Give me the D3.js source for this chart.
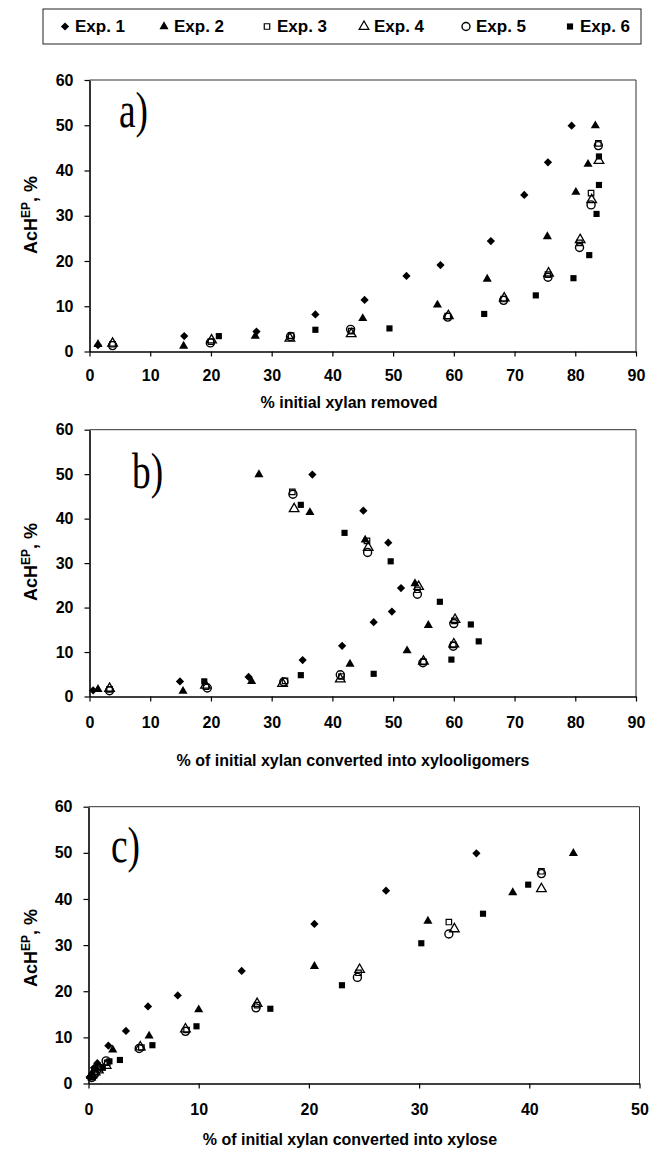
<!DOCTYPE html>
<html>
<head>
<meta charset="utf-8">
<script src="https://cdn.jsdelivr.net/npm/d3@7"></script>
<style>
  body { margin: 0; background: #fff; }
  svg { display: block; }
</style>
</head>
<body>
<script>
// AcH(EP) values, % (one array per experiment, same order in every panel)
const expNames = ["Exp. 1", "Exp. 2", "Exp. 3", "Exp. 4", "Exp. 5", "Exp. 6"];

const achEP = [
  [1.4, 3.4, 4.4, 8.2, 11.4, 16.7, 19.1, 24.4, 34.6, 41.8, 49.9],
  [1.6, 1.2, 3.4, 7.3, 10.3, 16.0, 25.4, 35.2, 41.4, 49.9],
  [1.6, 2.2, 3.5, 4.5, 7.8, 11.6, 17.0, 24.0, 35.0, 46.0],
  [1.8, 2.5, 2.9, 3.9, 7.9, 11.8, 17.3, 24.7, 33.5, 42.2],
  [1.3, 1.9, 3.3, 4.9, 7.6, 11.3, 16.4, 23.0, 32.4, 45.5],
  [3.4, 4.8, 5.1, 8.3, 12.4, 16.2, 21.3, 30.4, 36.8, 43.1]
];

// % initial xylan removed
const xylanRemoved = [
  [1.4, 15.6, 27.5, 37.2, 45.3, 52.2, 57.8, 66.1, 71.6, 75.5, 79.4],
  [1.4, 15.5, 27.3, 45.0, 57.3, 65.5, 75.4, 80.1, 82.1, 83.3],
  [3.8, 20.0, 33.2, 43.1, 59.0, 68.2, 75.5, 80.7, 82.6, 83.8],
  [3.8, 20.1, 33.0, 43.1, 59.1, 68.3, 75.6, 80.8, 82.7, 83.9],
  [3.8, 19.9, 33.1, 43.0, 59.0, 68.2, 75.5, 80.7, 82.6, 83.8],
  [21.3, 37.2, 49.4, 65.0, 73.5, 79.7, 82.3, 83.5, 83.9, 83.9]
];

// % of initial xylan converted into xylooligomers
const toOligomers = [
  [0.6, 14.9, 26.2, 35.1, 41.6, 46.8, 49.8, 51.3, 49.2, 45.1, 36.7],
  [1.4, 15.4, 26.7, 42.9, 52.3, 55.8, 53.6, 45.4, 36.3, 27.9],
  [3.3, 19.2, 32.2, 41.5, 55.0, 59.9, 60.1, 54.0, 45.7, 33.4],
  [3.3, 19.1, 31.8, 41.3, 55.0, 60.0, 60.2, 54.2, 45.9, 33.7],
  [3.3, 19.4, 32.0, 41.3, 54.9, 59.9, 60.0, 54.0, 45.8, 33.5],
  [18.9, 34.8, 46.8, 59.6, 64.1, 62.8, 57.7, 49.6, 42.0, 34.8]
];

// % of initial xylan converted into xylose
const toXylose = [
  [0.1, 0.5, 0.8, 1.8, 3.4, 5.4, 8.1, 13.9, 20.5, 27.0, 35.2],
  [0.2, 0.3, 0.7, 2.2, 5.5, 10.0, 20.5, 30.8, 38.5, 44.0],
  [0.3, 0.6, 1.0, 1.7, 4.8, 8.9, 15.3, 24.5, 32.7, 41.1],
  [0.3, 0.6, 0.9, 1.6, 4.7, 8.8, 15.3, 24.6, 33.2, 41.1],
  [0.3, 0.5, 0.9, 1.6, 4.6, 8.8, 15.2, 24.4, 32.7, 41.1],
  [1.3, 1.9, 2.85, 5.8, 9.8, 16.5, 23.0, 30.2, 35.8, 39.9]
];

const yTicks = [0, 10, 20, 30, 40, 50, 60];
const xTicksAB = [0, 10, 20, 30, 40, 50, 60, 70, 80, 90];
const xTicksC = [0, 10, 20, 30, 40, 50];

const W = 658, H = 1149;
const sans = "'Liberation Sans', Arial, sans-serif";
const serif = "'Liberation Serif', 'Times New Roman', serif";

const svg = d3.select("body").append("svg")
  .attr("width", W).attr("height", H);

// marker drawing
function marker(g, i) {
  const sym = d3.symbol();
  if (i === 0) {
    g.append("path").attr("d", sym.type(d3.symbolSquare).size(34)())
      .attr("transform", "rotate(45)").attr("fill", "#000");
  } else if (i === 1) {
    g.append("path").attr("d", sym.type(d3.symbolTriangle).size(36)())
      .attr("fill", "#000");
  } else if (i === 2) {
    g.append("path").attr("d", sym.type(d3.symbolSquare).size(30)())
      .attr("fill", "none").attr("stroke", "#000").attr("stroke-width", 1.2);
  } else if (i === 3) {
    g.append("path").attr("d", sym.type(d3.symbolTriangle).size(40)())
      .attr("fill", "none").attr("stroke", "#000").attr("stroke-width", 1.3);
  } else if (i === 4) {
    g.append("circle").attr("r", 4)
      .attr("fill", "none").attr("stroke", "#000").attr("stroke-width", 1.4);
  } else {
    g.append("path").attr("d", sym.type(d3.symbolSquare).size(38)())
      .attr("fill", "#000");
  }
}

// legend
const leg = svg.append("g");
leg.append("rect")
  .attr("x", 43).attr("y", 9).attr("width", 598).attr("height", 35)
  .attr("fill", "none").attr("stroke", "#222").attr("stroke-width", 1);
const legX = [65, 164, 267, 364, 466, 570];
expNames.forEach((name, i) => {
  const g = leg.append("g").attr("transform", `translate(${legX[i]},26.5)`);
  marker(g, i);
  leg.append("text")
    .attr("x", legX[i] + 10).attr("y", 32)
    .attr("font-family", sans).attr("font-weight", "bold").attr("font-size", 17)
    .text(name);
});

const panels = [
  { xs: xylanRemoved, dom: [0, 90], ticks: xTicksAB, x0: 89.5, x1: 636, y0: 351.5, y1: 80,
    pad: 13, title: "% initial xylan removed", tY: 408, tX: 349,
    lab: "a)", lx: 119, ly: 127, yt: 215 },
  { xs: toOligomers, dom: [0, 90], ticks: xTicksAB, x0: 89.5, x1: 636, y0: 696.5, y1: 429.7,
    pad: 15, title: "% of initial xylan converted into xylooligomers", tY: 766, tX: 353,
    lab: "b)", lx: 132, ly: 488, yt: 562 },
  { xs: toXylose, dom: [0, 50], ticks: xTicksC, x0: 88.5, x1: 639.5, y0: 1083.5, y1: 806.7,
    pad: 15, title: "% of initial xylan converted into xylose", tY: 1145, tX: 350,
    lab: "c)", lx: 111, ly: 862, yt: 948 }
];

panels.forEach(p => {
  const x = d3.scaleLinear().domain(p.dom).range([p.x0, p.x1]);
  const y = d3.scaleLinear().domain([0, 60]).range([p.y0, p.y1]);
  const g = svg.append("g");

  // plot frame (top and right)
  g.append("path")
    .attr("d", `M${p.x0},${p.y1}H${p.x1}V${p.y0}`)
    .attr("fill", "none").attr("stroke", "#333").attr("stroke-width", 1);

  const xa = g.append("g")
    .attr("transform", `translate(0,${p.y0})`)
    .call(d3.axisBottom(x).tickValues(p.ticks).tickSize(5).tickPadding(p.pad).tickSizeOuter(0));
  const ya = g.append("g")
    .attr("transform", `translate(${p.x0},0)`)
    .call(d3.axisLeft(y).tickValues(yTicks).tickSize(5).tickPadding(11).tickSizeOuter(0));
  [xa, ya].forEach(a => {
    a.select(".domain").attr("stroke", "#000").attr("stroke-width", 1.6);
    a.selectAll(".tick line").attr("stroke", "#000").attr("stroke-width", 1.2);
    a.selectAll("text")
      .attr("font-family", sans).attr("font-weight", "bold")
      .attr("font-size", 16).attr("fill", "#000");
  });

  // x title
  g.append("text")
    .attr("x", p.tX).attr("y", p.tY).attr("text-anchor", "middle")
    .attr("font-family", sans).attr("font-weight", "bold").attr("font-size", 16)
    .text(p.title);

  // y title
  const yt = g.append("text")
    .attr("transform", `translate(37,${p.yt}) rotate(-90)`)
    .attr("text-anchor", "middle")
    .attr("font-family", sans).attr("font-weight", "bold").attr("font-size", 18);
  yt.append("tspan").text("AcH");
  yt.append("tspan").attr("font-size", 12).attr("dy", -7).text("EP");
  yt.append("tspan").attr("dy", 7).text(", %");

  // panel label
  g.append("text")
    .attr("transform", `translate(${p.lx},${p.ly}) scale(0.85,1.15)`)
    .attr("font-family", serif).attr("font-size", 44)
    .text(p.lab);

  // points
  p.xs.forEach((xv, i) => {
    const pts = xv.map((v, k) => [v, achEP[i][k]]);
    g.append("g").selectAll("g")
      .data(pts)
      .join("g")
      .attr("transform", d => `translate(${x(d[0])},${y(d[1])})`)
      .each(function () { marker(d3.select(this), i); });
  });
});
</script>
</body>
</html>
